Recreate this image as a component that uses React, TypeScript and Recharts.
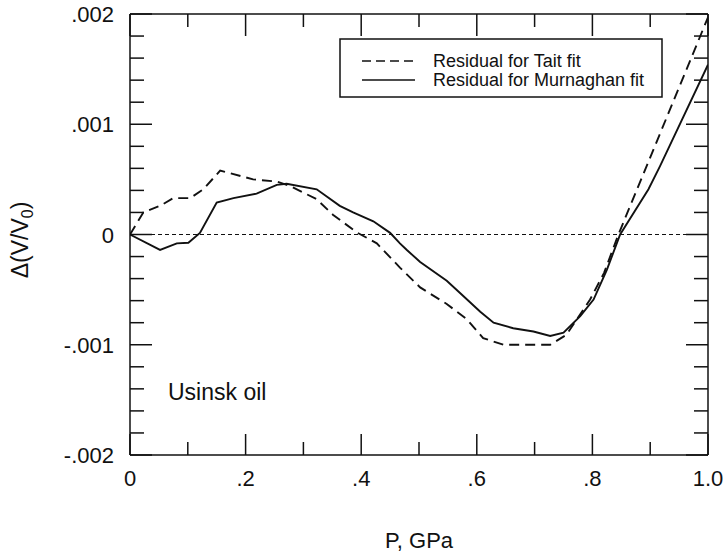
import React from 'react';
import { LineChart, Line, XAxis, YAxis, ReferenceLine } from 'recharts';

// ---- data ----
const taitP = [0, 0.023, 0.052, 0.075, 0.104, 0.127, 0.156, 0.213, 0.254, 0.277, 0.323, 0.351, 0.392, 0.427, 0.467, 0.502, 0.548, 0.583, 0.611, 0.646, 0.727, 0.755, 0.796, 0.82, 0.845, 1.0];
const taitResid = [0, 0.0002, 0.00026, 0.00033, 0.00033, 0.00041, 0.00058, 0.0005, 0.00048, 0.00044, 0.00032, 0.00018, 0.00002, -0.00008, -0.0003, -0.00048, -0.00063, -0.00077, -0.00094, -0.001, -0.001, -0.00091, -0.00059, -0.00035, 0, 0.00197];

const murnP = [0, 0.052, 0.081, 0.101, 0.121, 0.15, 0.179, 0.219, 0.254, 0.271, 0.323, 0.363, 0.386, 0.421, 0.45, 0.467, 0.479, 0.502, 0.548, 0.571, 0.606, 0.629, 0.663, 0.698, 0.727, 0.75, 0.779, 0.802, 0.825, 0.848, 0.897, 0.917, 1.0];
const murnResid = [0, -0.00014, -0.00008, -0.000075, 0.000015, 0.00029, 0.00033, 0.00037, 0.00045, 0.00046, 0.00041, 0.00026, 0.0002, 0.00012, 0.000015, -0.00008, -0.00014, -0.00025, -0.00042, -0.00053, -0.0007, -0.0008, -0.00085, -0.00088, -0.00092, -0.00089, -0.00074, -0.00059, -0.00032, 0, 0.00041, 0.00062, 0.00154];

const xTicks = [0, 0.1, 0.2, 0.3, 0.4, 0.5, 0.6, 0.7, 0.8, 0.9, 1.0];
const xMajorTicks = [0, 0.2, 0.4, 0.6, 0.8, 1.0];
const xTickLabels = ['0', '.2', '.4', '.6', '.8', '1.0'];

const yTicks = [-0.002, -0.0018, -0.0016, -0.0014, -0.0012, -0.001, -0.0008, -0.0006, -0.0004, -0.0002, 0, 0.0002, 0.0004, 0.0006, 0.0008, 0.001, 0.0012, 0.0014, 0.0016, 0.0018, 0.002];
const yMajorTicks = [-0.002, -0.001, 0, 0.001, 0.002];
const yTickLabels = ['-.002', '-.001', '0', '.001', '.002'];

const legendLabels = ['Residual for Tait fit', 'Residual for Murnaghan fit'];
const annotation = 'Usinsk oil';

const taitData = taitP.map((p, i) => ({ p, r: taitResid[i] }));
const murnData = murnP.map((p, i) => ({ p, r: murnResid[i] }));

const FONT = "'Liberation Sans', Arial, sans-serif";
const INK = '#111';

const majorIndex = (arr: number[], v: number) => arr.findIndex((m) => Math.abs(m - v) < 1e-9);

const BottomTick = (props: any) => {
  const { x, y, payload } = props;
  const mi = majorIndex(xMajorTicks, payload.value);
  const major = mi >= 0;
  return (
    <g>
      <line x1={x} x2={x} y1={y} y2={y - (major ? 21 : 13)} stroke={INK} strokeWidth={1.5} />
      {major && (
        <text x={x} y={y + 31} textAnchor="middle" fontSize={22} fontFamily={FONT} fill={INK}>
          {xTickLabels[mi]}
        </text>
      )}
    </g>
  );
};

const TopTick = (props: any) => {
  const { x, y, payload } = props;
  const major = majorIndex(xMajorTicks, payload.value) >= 0;
  return <line x1={x} x2={x} y1={y} y2={y + (major ? 22 : 13)} stroke={INK} strokeWidth={1.5} />;
};

const LeftTick = (props: any) => {
  const { x, y, payload } = props;
  const mi = majorIndex(yMajorTicks, payload.value);
  const major = mi >= 0;
  return (
    <g>
      <line x1={x} x2={x + (major ? 22 : 14)} y1={y} y2={y} stroke={INK} strokeWidth={1.5} />
      {major && (
        <text x={x - 16} y={y + 8} textAnchor="end" fontSize={22} fontFamily={FONT} fill={INK}>
          {yTickLabels[mi]}
        </text>
      )}
    </g>
  );
};

const RightTick = (props: any) => {
  const { x, y, payload } = props;
  const major = majorIndex(yMajorTicks, payload.value) >= 0;
  return <line x1={x} x2={x - (major ? 22 : 14)} y1={y} y2={y} stroke={INK} strokeWidth={1.5} />;
};

const XLabel = (props: any) => {
  const vb = props.viewBox || { x: 130, y: 455, width: 578 };
  return (
    <text x={vb.x + vb.width / 2} y={455 + 93} textAnchor="middle" fontSize={22} fontFamily={FONT} fill={INK}>
      P, GPa
    </text>
  );
};

const YLabel = () => {
  const cx = 28;
  const cy = 240;
  return (
    <text
      x={cx}
      y={cy}
      transform={`rotate(-90, ${cx}, ${cy})`}
      textAnchor="middle"
      fontSize={23}
      fontFamily={FONT}
      fill={INK}
    >
      Δ(V/V<tspan fontSize={16} dy={5}>0</tspan><tspan dy={-5}>)</tspan>
    </text>
  );
};

export default function App() {
  return (
    <div style={{ position: 'absolute', left: 0, top: 0, width: 724, height: 557, background: '#fff' }}>
      <LineChart width={724} height={557} margin={{ top: 13, right: 15, bottom: 101, left: 129 }}>
        <XAxis
          xAxisId="b"
          dataKey="p"
          type="number"
          domain={[0, 1]}
          ticks={xTicks}
          interval={0}
          tickSize={0}
          tickMargin={0}
          height={1}
          tickLine={false}
          tick={<BottomTick />}
          axisLine={{ stroke: INK, strokeWidth: 1.5 }}
          label={<XLabel />}
          allowDataOverflow
        />
        <XAxis
          xAxisId="t"
          orientation="top"
          dataKey="p"
          type="number"
          domain={[0, 1]}
          ticks={xTicks}
          interval={0}
          tickSize={0}
          tickMargin={0}
          height={1}
          tickLine={false}
          tick={<TopTick />}
          axisLine={{ stroke: INK, strokeWidth: 1.5 }}
          allowDataOverflow
        />
        <YAxis
          yAxisId="l"
          type="number"
          domain={[-0.002, 0.002]}
          ticks={yTicks}
          interval={0}
          tickSize={0}
          tickMargin={0}
          width={1}
          tickLine={false}
          tick={<LeftTick />}
          axisLine={{ stroke: INK, strokeWidth: 1.5 }}
          label={<YLabel />}
          allowDataOverflow
        />
        <YAxis
          yAxisId="r"
          orientation="right"
          type="number"
          domain={[-0.002, 0.002]}
          ticks={yTicks}
          interval={0}
          tickSize={0}
          tickMargin={0}
          width={1}
          tickLine={false}
          tick={<RightTick />}
          axisLine={{ stroke: INK, strokeWidth: 1.5 }}
          allowDataOverflow
        />
        <ReferenceLine xAxisId="b" yAxisId="l" y={0} stroke={INK} strokeWidth={1.2} strokeDasharray="4 3" />
        <Line
          xAxisId="b"
          yAxisId="l"
          data={taitData}
          dataKey="r"
          type="linear"
          stroke={INK}
          strokeWidth={1.9}
          strokeDasharray="10 6"
          dot={false}
          isAnimationActive={false}
        />
        <Line
          xAxisId="b"
          yAxisId="l"
          data={murnData}
          dataKey="r"
          type="linear"
          stroke={INK}
          strokeWidth={1.9}
          dot={false}
          isAnimationActive={false}
        />
      </LineChart>
      <svg
        width={724}
        height={557}
        style={{ position: 'absolute', left: 0, top: 0, pointerEvents: 'none' }}
      >
        <rect x={340} y={39} width={322} height={58} fill="#fff" stroke={INK} strokeWidth={1.5} />
        <line x1={362} x2={415} y1={61} y2={61} stroke={INK} strokeWidth={1.5} strokeDasharray="9 5" />
        <line x1={362} x2={415} y1={80} y2={80} stroke={INK} strokeWidth={1.5} />
        <text x={433} y={67} fontSize={18} fontFamily={FONT} fill={INK}>{legendLabels[0]}</text>
        <text x={433} y={86} fontSize={18} fontFamily={FONT} fill={INK}>{legendLabels[1]}</text>
        <text x={168} y={400} fontSize={23} fontFamily={FONT} fill={INK}>{annotation}</text>
      </svg>
    </div>
  );
}
